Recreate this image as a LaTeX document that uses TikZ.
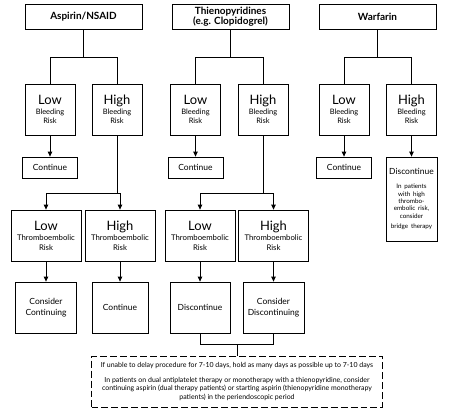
\documentclass[tikz,border=0pt]{standalone}
\usepackage{fontspec}
\setmainfont{Lato}
\usepackage{tikz}
\usetikzlibrary{arrows.meta,positioning}

\newcommand{\bigword}[1]{{\fontsize{13}{14}\selectfont #1}}

\begin{document}
\begin{tikzpicture}[
  x=1bp, y=-1bp,
  every node/.style={align=center, inner sep=1pt},
  drug/.style={draw=black, line width=0.8pt, minimum width=117bp, minimum height=25bp,
               font=\fontsize{10}{10.5}\selectfont\bfseries},
  riskbox/.style={draw=black, line width=0.8pt, minimum width=50bp, minimum height=51bp,
                  font=\fontsize{7.5}{9.5}\selectfont},
  thrombox/.style={draw=black, line width=0.8pt, minimum width=70bp, minimum height=51bp,
                   font=\fontsize{7.8}{10}\selectfont},
  action/.style={draw=black, line width=0.8pt, minimum height=21bp,
                 font=\fontsize{8.5}{10.5}\selectfont},
  outcome/.style={draw=black, line width=0.8pt, minimum height=51bp,
                  font=\fontsize{8.5}{10.5}\selectfont},
  link/.style={line width=0.8pt},
  arrow/.style={line width=0.8pt, -{Triangle[length=5pt,width=4.5pt]}},
]
\useasboundingbox (0,0) rectangle (451,408);

% drug classes
\node[drug] (asp) at (83.5,16.5) {Aspirin/NSAID};
\node[drug] (thi) at (230.5,16.5) {Thienopyridines\\(e.g. Clopidogrel)};
\node[drug] (war) at (377.5,16.5) {Warfarin};

% bleeding risk
\node[riskbox] (aspL) at (50,109.5)   {\bigword{Low}\\Bleeding\\Risk};
\node[riskbox] (aspH) at (117,109.5)  {\bigword{High}\\Bleeding\\Risk};
\node[riskbox] (thiL) at (195.5,109.5) {\bigword{Low}\\Bleeding\\Risk};
\node[riskbox] (thiH) at (263,109.5)  {\bigword{High}\\Bleeding\\Risk};
\node[riskbox] (warL) at (344,109.5)  {\bigword{Low}\\Bleeding\\Risk};
\node[riskbox] (warH) at (411.5,109.5) {\bigword{High}\\Bleeding\\Risk};

\foreach \d in {asp,thi,war}{
  \draw[link] (\d.south) -- ++(0,28) coordinate (\d J);
  \draw[link] (\d L.north) |- (\d J) -| (\d H.north);
}

% low bleeding risk
\node[action, minimum width=55bp] (aspC) at (50,167.5)  {Continue};
\node[action, minimum width=55bp] (thiC) at (195.5,167.5) {Continue};
\node[action, minimum width=55bp] (warC) at (344,167.5) {Continue};
\node[draw=black, line width=0.8pt, minimum width=51bp, minimum height=84bp,
      text width=49bp, font=\fontsize{8.5}{10.5}\selectfont] (warD) at (411.5,199)
  {Discontinue\\[7pt]\fontsize{6.3}{7.4}\selectfont In patients\\with high\\thrombo-\\embolic risk,\\consider\\bridge therapy};

\draw[arrow] (aspL) -- (aspC);
\draw[arrow] (thiL) -- (thiC);
\draw[arrow] (warL) -- (warC);
\draw[arrow] (warH) -- (warD);

% thromboembolic risk
\node[thrombox] (aspTL) at (46,235.5)    {\bigword{Low}\\Thromboembolic\\Risk};
\node[thrombox] (aspTH) at (120,235.5)   {\bigword{High}\\Thromboembolic\\Risk};
\node[thrombox] (thiTL) at (200,235.5)   {\bigword{Low}\\Thromboembolic\\Risk};
\node[thrombox] (thiTH) at (273.5,235.5) {\bigword{High}\\Thromboembolic\\Risk};

\draw[link] (aspH.south) -- ++(0,58) coordinate (aspK);
\draw[arrow] (aspK) -| (aspTL.north);
\draw[arrow] (aspK) -| (aspTH.north);
\draw[link] (thiH.south) -- ++(0,58) coordinate (thiK);
\draw[arrow] (thiK) -| (thiTL.north);
\draw[arrow] (thiK) -| (thiTH.north);

% outcomes
\node[outcome, minimum width=61bp] (aspO1) at (46,307.5)    {Consider\\Continuing};
\node[outcome, minimum width=56bp] (aspO2) at (120,307.5)   {Continue};
\node[outcome, minimum width=60bp] (thiO1) at (200,307.5)   {Discontinue};
\node[outcome, minimum width=61bp] (thiO2) at (273.5,307.5) {Consider\\Discontinuing};

\draw[arrow] (aspTL) -- (aspO1);
\draw[arrow] (aspTH) -- (aspO2);
\draw[arrow] (thiTL) -- (thiO1);
\draw[arrow] (thiTH) -- (thiO2);

% bridging note
\node[draw=black, line width=0.9pt, dash pattern=on 7pt off 3pt,
      minimum width=291bp, minimum height=51bp,
      font=\fontsize{7}{8.5}\selectfont] (note) at (237,381.5)
  {If unable to delay procedure for 7-10 days, hold as many days as possible up to 7-10 days\\[6pt]
   In patients on dual antiplatelet therapy or monotherapy with a thienopyridine, consider\\
   continuing aspirin (dual therapy patients) or starting aspirin (thienopyridine monotherapy\\
   patients) in the periendoscopic period};

\coordinate (thiM) at (237,344);
\draw[link] (thiO1.south) |- (thiM) -| (thiO2.south);
\draw[link] (thiM) -- (note.north);

\end{tikzpicture}
\end{document}
